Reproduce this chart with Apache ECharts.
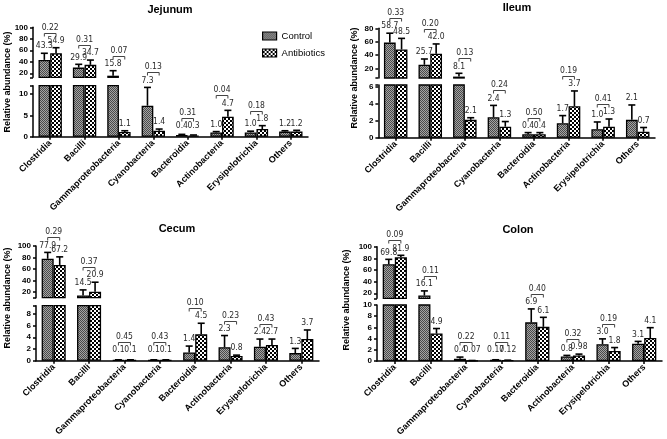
<!DOCTYPE html>
<html><head><meta charset="utf-8">
<script src="https://cdn.jsdelivr.net/npm/echarts@6/dist/echarts.min.js"></script>
<style>html,body{margin:0;padding:0;background:#fff}#c{width:667px;height:439px}</style>
</head><body><div id="c"></div>
<script>
const categories = ['Clostridia','Bacilli','Gammaproteobacteria','Cyanobacteria','Bacteroidia','Actinobacteria','Erysipelotrichia','Others'];
const seriesNames = ['Control','Antibiotics'];
const yAxisName = 'Relative abundance (%)';

// Jejunum
const jejunumControl = [43.3, 29.9, 15.8, 7.3, 0.4, 1.0, 1.0, 1.2];
const jejunumControlErr = [11.5, 5.7, 8.7, 4.3, 0.15, 0.2, 0.3, 0.2];
const jejunumAntibiotics = [54.9, 34.7, 1.1, 1.4, 0.3, 4.7, 1.8, 1.2];
const jejunumAntibioticsErr = [9.6, 8.3, 0.3, 0.4, 0.1, 1.5, 0.8, 0.3];
const jejunumControlLabels = ['43.3','29.9','15.8','7.3','0.4','1.0','1.0','1.2'];
const jejunumAntibioticsLabels = ['54.9','34.7','1.1','1.4','0.3','4.7','1.8','1.2'];
const jejunumPValues = ['0.22','0.31','0.07','0.13','0.31','0.04','0.18',''];
const jejunumUpperTicks = [20,40,60,80,100];
const jejunumLowerTicks = [0,5,10];

// Ileum
const ileumControl = [58.7, 25.7, 8.1, 2.4, 0.4, 1.7, 1.0, 2.1];
const ileumControlErr = [14, 8.6, 4.9, 1.4, 0.2, 0.9, 0.85, 1.75];
const ileumAntibiotics = [48.5, 42.0, 2.1, 1.3, 0.4, 3.7, 1.3, 0.7];
const ileumAntibioticsErr = [16.5, 14.7, 0.25, 0.6, 0.2, 1.8, 0.9, 0.5];
const ileumControlLabels = ['58.7','25.7','8.1','2.4','0.4','1.7','1.0','2.1'];
const ileumAntibioticsLabels = ['48.5','42.0','2.1','1.3','0.4','3.7','1.3','0.7'];
const ileumPValues = ['0.33','0.20','0.13','0.24','0.50','0.19','0.41',''];
const ileumUpperTicks = [20,40,60,80];
const ileumLowerTicks = [0,2,4,6];

// Cecum
const cecumControl = [77.9, 14.5, 0.1, 0.1, 1.4, 2.3, 2.4, 1.3];
const cecumControlErr = [11, 9.5, 0.05, 0.05, 1.1, 2.0, 1.3, 0.8];
const cecumAntibiotics = [67.2, 20.9, 0.1, 0.1, 4.5, 0.8, 2.7, 3.7];
const cecumAntibioticsErr = [14, 16.4, 0.05, 0.05, 1.9, 0.15, 1.0, 1.55];
const cecumControlLabels = ['77.9','14.5','0.1','0.1','1.4','2.3','2.4','1.3'];
const cecumAntibioticsLabels = ['67.2','20.9','0.1','0.1','4.5','0.8','2.7','3.7'];
const cecumPValues = ['0.29','0.37','0.45','0.43','0.10','0.23','0.43',''];
const cecumUpperTicks = [20,40,60,80,100];
const cecumLowerTicks = [0,2,4,6,8];

// Colon
const colonControl = [69.8, 16.1, 0.4, 0.17, 6.9, 0.8, 3.0, 3.1];
const colonControlErr = [8.5, 8, 0.3, 0.05, 2.4, 0.2, 0.95, 0.4];
const colonAntibiotics = [81.9, 4.9, 0.07, 0.12, 6.1, 0.98, 1.8, 4.1];
const colonAntibioticsErr = [3.3, 0.9, 0.02, 0.03, 1.7, 0.25, 0.6, 1.85];
const colonControlLabels = ['69.8','16.1','0.4','0.17','6.9','0.8','3.0','3.1'];
const colonAntibioticsLabels = ['81.9','4.9','0.07','0.12','6.1','0.98','1.8','4.1'];
const colonPValues = ['0.09','0.11','0.22','0.11','0.40','0.32','0.19',''];
const colonUpperTicks = [20,40,60,80,100];
const colonLowerTicks = [0,2,4,6,8,10];

const panels = [
  {title:'Jejunum', tx:170, ty:10, left:33, width:275, up:[27.3,77.3], low:[85.7,136.7], upRange:[13,100], lowRange:[0,12], nx:8, ny:82,
   c:jejunumControl, ce:jejunumControlErr, a:jejunumAntibiotics, ae:jejunumAntibioticsErr, cl:jejunumControlLabels, al:jejunumAntibioticsLabels, p:jejunumPValues, ut:jejunumUpperTicks, lt:jejunumLowerTicks},
  {title:'Ileum', tx:517, ty:8, left:378.4, width:276.6, up:[28.3,78], low:[85,137.7], upRange:[6,80], lowRange:[0,6.2], nx:355, ny:78,
   c:ileumControl, ce:ileumControlErr, a:ileumAntibiotics, ae:ileumAntibioticsErr, cl:ileumControlLabels, al:ileumAntibioticsLabels, p:ileumPValues, ut:ileumUpperTicks, lt:ileumLowerTicks},
  {title:'Cecum', tx:177, ty:229, left:36, width:283, up:[246,297.7], low:[305.7,360.7], upRange:[10.5,100], lowRange:[0,9.4], nx:8, ny:298,
   c:cecumControl, ce:cecumControlErr, a:cecumAntibiotics, ae:cecumAntibioticsErr, cl:cecumControlLabels, al:cecumAntibioticsLabels, p:cecumPValues, ut:cecumUpperTicks, lt:cecumLowerTicks},
  {title:'Colon', tx:518, ty:230, left:377, width:285, up:[246.7,298.3], low:[305,361], upRange:[11.4,100], lowRange:[0,10], nx:347, ny:300,
   c:colonControl, ce:colonControlErr, a:colonAntibiotics, ae:colonAntibioticsErr, cl:colonControlLabels, al:colonAntibioticsLabels, p:colonPValues, ut:colonUpperTicks, lt:colonLowerTicks}
];

const BAR_FRAC = 0.34;
const FONT = '"Liberation Sans", Arial, sans-serif';
const NARROW = '"Liberation Sans Narrow", "DejaVu Sans Condensed", "Liberation Sans", sans-serif';

function makePattern(kind) {
  const c = document.createElement('canvas');
  const ctx = c.getContext('2d');
  if (kind === 'control') {
    c.width = 2; c.height = 2;
    ctx.fillStyle = '#a4a4a4'; ctx.fillRect(0,0,2,2);
    ctx.fillStyle = '#4a4a4a'; ctx.fillRect(0,0,1,1); ctx.fillRect(1,1,1,1);
  } else {
    c.width = 4; c.height = 4;
    ctx.fillStyle = '#000'; ctx.fillRect(0,0,4,4);
    ctx.fillStyle = '#fff'; ctx.fillRect(0,0,2,2); ctx.fillRect(2,2,2,2);
  }
  return { image: c, repeat: 'repeat' };
}
const ctrlFill = makePattern('control');
const abFill = makePattern('antibiotics');

function errRender(sign) {
  return function (params, api) {
    const cat = api.value(0), v = api.value(1), e = api.value(2);
    const cs = params.coordSys;
    const band = api.size([1, 0])[0];
    const x = api.coord([cat, 0])[0] + sign * band * BAR_FRAC / 2;
    let y0 = api.coord([cat, v])[1];
    let y1 = api.coord([cat, v + e])[1];
    const top = cs.y, bot = cs.y + cs.height;
    if (y0 < top) return null;
    const capVisible = y1 >= top;
    y1 = Math.max(y1, top);
    y0 = Math.min(y0, bot);
    if (y1 >= y0) return null;
    const st = { stroke: '#000', lineWidth: 1.6 };
    const children = [{ type: 'line', shape: { x1: x, y1: y0, x2: x, y2: y1 }, style: st }];
    if (capVisible) children.push({ type: 'line', shape: { x1: x - 3.5, y1: y1, x2: x + 3.5, y2: y1 }, style: st });
    return { type: 'group', children };
  };
}

const grid = [], xAxis = [], yAxis = [], series = [];
panels.forEach((p, i) => {
  [0, 1].forEach(part => {
    const g = 2 * i + part;
    const isLow = part === 1;
    const span = isLow ? p.low : p.up;
    const range = isLow ? p.lowRange : p.upRange;
    grid.push({ left: p.left, width: p.width, top: span[0], height: span[1] - span[0], outerBoundsMode: 'none', containLabel: false });
    xAxis.push({
      type: 'category', gridIndex: g, data: categories, show: isLow,
      axisLine: { show: true, lineStyle: { color: '#000', width: 1.5 } },
      axisTick: { show: true, alignWithLabel: true, length: 3, lineStyle: { color: '#000', width: 1.5 } },
      axisLabel: { rotate: 45, interval: 0, margin: 5, fontSize: 9, fontWeight: 'bold', color: '#000', fontFamily: FONT },
      splitLine: { show: false }
    });
    const ticks = isLow ? p.lt : p.ut;
    const tickVals = isLow ? ticks.concat([range[1]]) : [range[0]].concat(ticks);
    yAxis.push({
      type: 'value', gridIndex: g, min: range[0], max: range[1],
      axisLine: { show: true, lineStyle: { color: '#000', width: 1.5 } },
      axisTick: { show: true, length: 3, lineStyle: { color: '#000', width: 1.5 }, customValues: tickVals },
      axisLabel: { customValues: ticks, margin: 5, fontSize: 8, fontWeight: 'bold', color: '#000', fontFamily: FONT },
      splitLine: { show: false }
    });
    series.push({
      type: 'bar', name: seriesNames[0], xAxisIndex: g, yAxisIndex: g, data: p.c,
      barWidth: (BAR_FRAC * 100) + '%', barGap: '0%', clip: true, silent: true,
      itemStyle: { color: ctrlFill, borderColor: '#000', borderWidth: 1.3 }
    });
    series.push({
      type: 'bar', name: seriesNames[1], xAxisIndex: g, yAxisIndex: g, data: p.a,
      barWidth: (BAR_FRAC * 100) + '%', barGap: '0%', clip: true, silent: true,
      itemStyle: { color: abFill, borderColor: '#000', borderWidth: 1.3 }
    });
    series.push({
      type: 'custom', xAxisIndex: g, yAxisIndex: g, clip: false, silent: true,
      renderItem: errRender(-1), encode: { x: 0, y: 1 },
      data: p.c.map((v, k) => [k, v, p.ce[k]])
    });
    series.push({
      type: 'custom', xAxisIndex: g, yAxisIndex: g, clip: false, silent: true,
      renderItem: errRender(1), encode: { x: 0, y: 1 },
      data: p.a.map((v, k) => [k, v, p.ae[k]])
    });
  });
});

const chart = echarts.init(document.getElementById('c'), null, { renderer: 'canvas' });
chart.setOption({
  animation: false,
  backgroundColor: '#fff',
  grid, xAxis, yAxis, series,
  legend: {
    data: seriesNames, orient: 'vertical', left: 257, top: 26, icon: 'rect',
    itemWidth: 14, itemHeight: 8, itemGap: 7, selectedMode: false,
    itemStyle: { borderColor: '#000', borderWidth: 1.2 },
    textStyle: { fontSize: 9.5, color: '#000', fontFamily: FONT }
  }
});

// Phase 2: value labels, p-value brackets, titles and axis names
const graphics = [];
function px(g, cat, val) { return chart.convertToPixel({ gridIndex: g }, [cat, val]); }
panels.forEach((p, i) => {
  const up = 2 * i, lo = 2 * i + 1;
  graphics.push({ type: 'text', x: p.tx, y: p.ty, silent: true,
    style: { text: p.title, align: 'center', verticalAlign: 'middle', font: 'bold 11px ' + FONT, fill: '#000' } });
  graphics.push({ type: 'text', x: p.nx, y: p.ny, rotation: Math.PI / 2, silent: true,
    style: { text: yAxisName, align: 'center', verticalAlign: 'middle', font: 'bold 9px ' + FONT, fill: '#000' } });
  const band = px(lo, 1, 0)[0] - px(lo, 0, 0)[0];
  function capY(cat, v, e) {
    const t = v + e;
    if (v >= p.upRange[0]) return px(up, cat, Math.min(t, p.upRange[1]))[1];
    if (t >= p.upRange[0]) return px(up, cat, t)[1];
    if (t > p.lowRange[1]) return px(lo, cat, p.lowRange[1])[1];
    return px(lo, cat, t)[1];
  }
  categories.forEach((name, k) => {
    const cx = px(lo, k, 0)[0];
    const zeroY = px(lo, k, 0)[1];
    const xc = cx - band * BAR_FRAC / 2, xa = cx + band * BAR_FRAC / 2;
    const yc = Math.min(capY(k, p.c[k], p.ce[k]) - 7, zeroY - 11);
    const ya = Math.min(capY(k, p.a[k], p.ae[k]) - 7, zeroY - 11);
    graphics.push({ type: 'text', x: xc, y: yc, silent: true,
      style: { text: p.cl[k], align: 'center', verticalAlign: 'middle', font: '8.5px ' + NARROW, fill: '#2a2a2a' } });
    graphics.push({ type: 'text', x: xa, y: ya, silent: true,
      style: { text: p.al[k], align: 'center', verticalAlign: 'middle', font: '8.5px ' + NARROW, fill: '#2a2a2a' } });
    if (p.p[k]) {
      const by = Math.round(Math.min(yc, ya) - 8) + 0.5;
      graphics.push({ type: 'polyline', silent: true,
        shape: { points: [[xc, by + 3], [xc, by], [xa, by], [xa, by + 3]] },
        style: { stroke: '#444', lineWidth: 1, fill: null } });
      graphics.push({ type: 'text', x: cx, y: by - 5.5, silent: true,
        style: { text: p.p[k], align: 'center', verticalAlign: 'middle', font: '8.5px ' + NARROW, fill: '#2a2a2a' } });
    }
  });
});
chart.setOption({ graphic: graphics });
</script>
</body></html>
